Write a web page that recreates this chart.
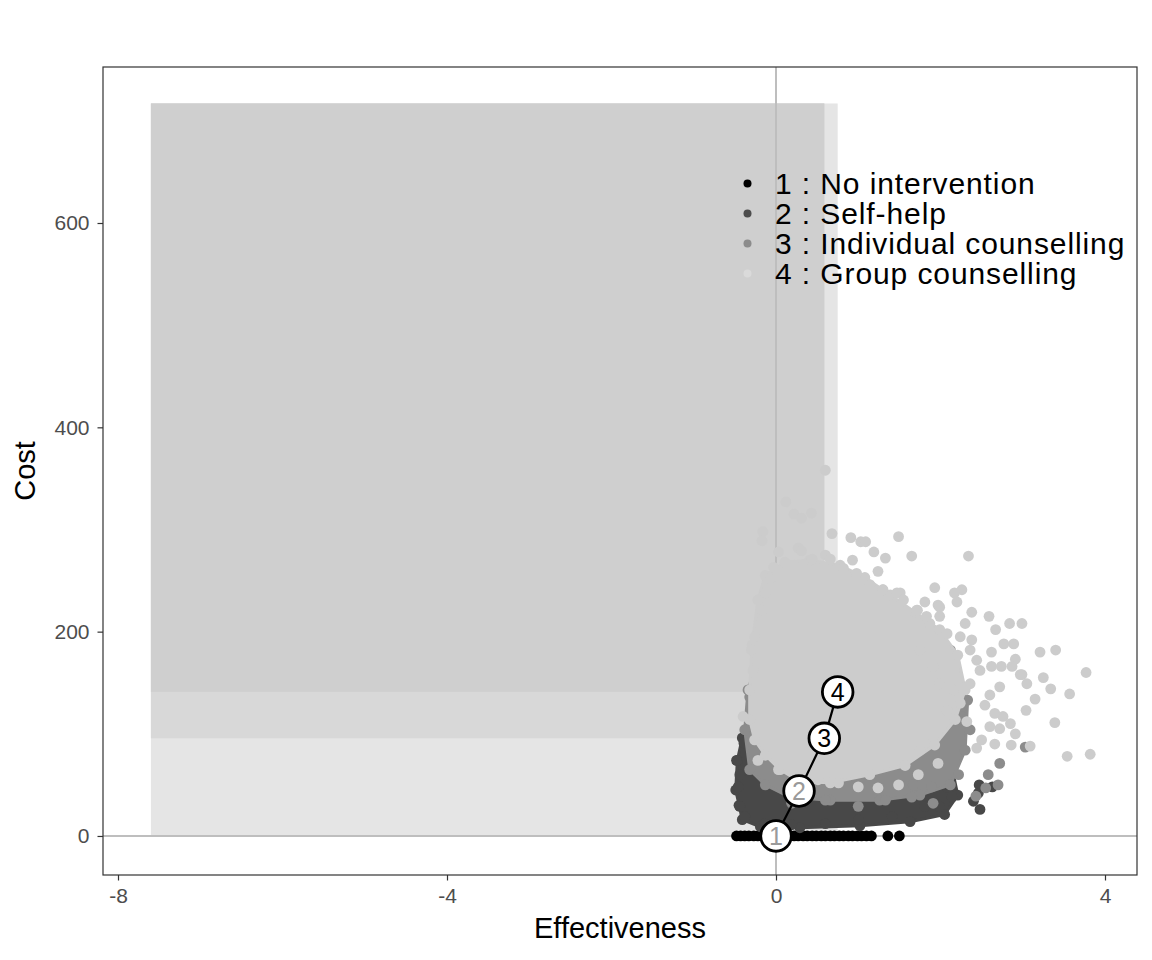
<!DOCTYPE html>
<html>
<head>
<meta charset="utf-8">
<script src="https://cdn.jsdelivr.net/npm/d3@7"></script>
<style>
  body { margin: 0; background: #fff; }
  text { font-family: "Liberation Sans", Arial, sans-serif; }
</style>
</head>
<body>
<div class="chart"></div>
<script>
// DATA //

// Axis ticks
const effectTicks = [-8, -4, 0, 4];
const costTicks = [0, 200, 400, 600];

// Strategies (legend)
const strategies = [
  "1 : No intervention",
  "2 : Self-help",
  "3 : Individual counselling",
  "4 : Group counselling"
];

// Mean effectiveness / cost of each strategy (numbered markers)
const meanEffect = [0, 0.28, 0.587, 0.75];
const meanCost = [0, 44, 95.6, 141];
const markerLabelDim = [true, true, false, false];

// Shaded regions (right edge and bottom taken from the means)
const regionXmin = -7.6;
const regionYmax = 717;
const regionXmax = [0.75, 0.587, 0.587];
const regionYmin = [0, 95.6, 141];

// 1 : No intervention, simulated [effect, cost]
const g1Points = [
  [-0.48, 0], [-0.43, 0], [-0.38, 0], [-0.33, 0], [-0.27, 0], [-0.22, 0],
  [-0.16, 0], [-0.11, 0], [-0.05, 0], [0.0, 0], [0.05, 0], [0.11, 0],
  [0.16, 0], [0.22, 0], [0.27, 0], [0.33, 0], [0.38, 0], [0.44, 0],
  [0.49, 0], [0.55, 0], [0.6, 0], [0.66, 0], [0.71, 0], [0.77, 0],
  [0.82, 0], [0.88, 0], [0.93, 0], [0.99, 0], [1.04, 0], [1.1, 0],
  [1.16, 0], [1.36, 0], [1.5, 0]
];

// 2 : Self-help, edge of the dense cloud and outlying draws
const g2Core = [
  [-0.41, 96], [-0.19, 133], [1.51, 133], [2.12, 74], [2.21, 40],
  [2.05, 21], [1.63, 14], [1.02, 10], [0.29, 8], [-0.19, 9],
  [-0.41, 16], [-0.49, 45], [-0.47, 74]
];
const g2Points = [
  [2.48, 26], [2.47, 50], [2.63, 48], [2.4, 34], [2.14, 38], [1.99, 29],
  [2.08, 48], [2.46, 42], [-0.39, 91], [-0.44, 60], [-0.45, 30],
  [-0.38, 19], [-0.13, 12], [0.19, 11], [0.6, 12], [1.0, 16], [1.41, 19],
  [1.81, 29], [-0.48, 74], [-0.46, 48], [-0.44, 29]
];

// 3 : Individual counselling
const g3Core = [
  [-0.34, 143], [-0.19, 182], [0.9, 192], [2.12, 182], [2.33, 133],
  [2.3, 84], [2.12, 50], [1.75, 40], [1.26, 35], [0.66, 35],
  [0.17, 38], [-0.13, 50], [-0.32, 65], [-0.38, 104]
];
const g3Points = [
  [2.26, 117], [2.36, 104], [3.03, 87], [2.72, 71], [2.58, 60],
  [2.7, 50], [2.43, 39], [2.22, 60], [1.91, 32], [1.67, 50],
  [-0.32, 136], [2.55, 47], [0.19, 32], [0.6, 35], [1.0, 29],
  [1.33, 35], [1.65, 38], [1.89, 48]
];

// 4 : Group counselling
const g4Core = [
  [-0.29, 187], [-0.22, 231], [-0.13, 255], [0.11, 268], [0.41, 270],
  [0.78, 265], [1.08, 253], [1.39, 236], [1.69, 219], [1.99, 202],
  [2.21, 177], [2.3, 143], [2.18, 114], [1.93, 89], [1.57, 69],
  [1.14, 60], [0.66, 52], [0.29, 53], [0.05, 65], [-0.13, 79],
  [-0.26, 94], [-0.32, 114], [-0.32, 143]
];
const g4Points = [
  [0.6, 358], [0.12, 327], [0.22, 315], [0.31, 311], [0.43, 316],
  [-0.16, 298], [-0.17, 289], [0.68, 296], [0.91, 292], [1.03, 288],
  [1.09, 288], [1.49, 293], [1.19, 278], [1.33, 272], [1.65, 274],
  [0.93, 270], [1.24, 259], [0.27, 282], [0.31, 279], [0.03, 278],
  [0.6, 275], [0.66, 271], [0.44, 271], [1.93, 243], [1.81, 229],
  [1.97, 226], [1.3, 241], [1.51, 238], [1.72, 221], [1.87, 208],
  [2.34, 274], [2.26, 241], [2.17, 238], [2.59, 215], [2.38, 219],
  [2.84, 208], [2.99, 208], [2.67, 202], [2.77, 188], [2.89, 188],
  [3.21, 180], [3.4, 182], [2.62, 180], [2.91, 173], [3.77, 160],
  [3.25, 155], [2.99, 158], [3.57, 139], [3.34, 144], [3.15, 134],
  [3.04, 123], [3.39, 111], [3.54, 78], [3.82, 80], [2.91, 100],
  [2.85, 110], [2.72, 105], [2.66, 90], [2.86, 89], [3.09, 88],
  [2.44, 86], [2.5, 94], [-0.4, 117], [2.44, 172], [2.48, 162],
  [2.62, 166], [2.74, 166], [2.87, 166], [2.97, 158], [3.05, 149],
  [2.72, 146], [2.6, 138], [2.76, 117], [2.66, 120], [2.54, 128],
  [2.36, 149], [2.38, 192], [2.24, 195], [2.36, 182], [2.6, 107],
  [2.32, 112], [2.2, 229], [1.99, 224], [2.3, 208],
  [-0.03, 263], [-0.07, 252], [-0.13, 238], [-0.17, 221], [-0.26, 195],
  [-0.3, 182], [-0.28, 162], [0.82, 262], [0.98, 257], [1.14, 246],
  [1.3, 241], [1.47, 238], [1.55, 231], [1.71, 221], [1.83, 215],
  [1.99, 215], [2.08, 198], [1.75, 182], [1.91, 166], [1.99, 149],
  [2.16, 143], [2.24, 130], [2.08, 123], [1.91, 97], [1.75, 84],
  [-0.22, 74], [0.03, 65], [0.27, 60], [0.51, 55], [0.76, 52],
  [1.0, 48], [1.24, 47], [1.49, 50], [1.73, 60], [1.97, 71]
];

// Define Chart Sizes
const w = 1152;
const h = 960;
const margin = { top: 67, right: 15, bottom: 85, left: 103 };

const palette = ["#000000", "#484848", "#8c8c8c", "#cccccc"];
const legendPalette = ["#000000", "#4d4d4d", "#8c8c8c", "#dadada"];
const regionFill = ["#e5e5e5", "#d8d8d8", "#cfcfcf"];
const dotR = 5.4;

// Add Main Chart svg
const svg = d3
  .select(".chart")
  .append("svg")
  .attr("width", w)
  .attr("height", h);

// SCALES //
const xScale = d3
  .scaleLinear()
  .domain([-8.1824, 4.389])
  .range([margin.left, w - margin.right]);

const yScale = d3
  .scaleLinear()
  .domain([-38.2, 752.7])
  .range([h - margin.bottom, margin.top]);

// REGIONS //
svg
  .append("g")
  .selectAll("rect")
  .data(regionXmax)
  .enter()
  .append("rect")
  .attr("x", xScale(regionXmin))
  .attr("y", yScale(regionYmax))
  .attr("width", (d) => xScale(d) - xScale(regionXmin))
  .attr("height", (d, i) => yScale(regionYmin[i]) - yScale(regionYmax))
  .attr("fill", (d, i) => regionFill[i]);

// Zero lines
svg
  .append("line")
  .attr("x1", xScale(0))
  .attr("x2", xScale(0))
  .attr("y1", margin.top)
  .attr("y2", h - margin.bottom)
  .attr("stroke", "#bebebe")
  .attr("stroke-width", 2);

svg
  .append("line")
  .attr("x1", margin.left)
  .attr("x2", w - margin.right)
  .attr("y1", yScale(0))
  .attr("y2", yScale(0))
  .attr("stroke", "#bebebe")
  .attr("stroke-width", 2);

// POINTS //
const cloud = d3
  .line()
  .x((d) => xScale(d[0]))
  .y((d) => yScale(d[1]))
  .curve(d3.curveLinearClosed);

const groups = [
  { core: null, points: g1Points },
  { core: g2Core, points: g2Points },
  { core: g3Core, points: g3Points },
  { core: g4Core, points: g4Points }
];

groups.forEach((g, i) => {
  const layer = svg.append("g").attr("class", "group-" + (i + 1));
  if (g.core) {
    layer
      .append("path")
      .attr("d", cloud(g.core))
      .attr("fill", palette[i])
      .attr("stroke", palette[i])
      .attr("stroke-width", 3)
      .attr("stroke-linejoin", "round");
  }
  layer
    .selectAll("circle")
    .data((g.core || []).concat(g.points))
    .enter()
    .append("circle")
    .attr("cx", (d) => xScale(d[0]))
    .attr("cy", (d) => yScale(d[1]))
    .attr("r", dotR)
    .attr("fill", palette[i]);
});

// LEGEND //
const legend = svg.append("g").attr("class", "legend");

legend
  .selectAll("circle")
  .data(strategies)
  .enter()
  .append("circle")
  .attr("cx", 747.5)
  .attr("cy", (d, i) => 183.5 + i * 30)
  .attr("r", 4)
  .attr("fill", (d, i) => legendPalette[i]);

legend
  .selectAll("text")
  .data(strategies)
  .enter()
  .append("text")
  .text((d) => d)
  .attr("x", 775)
  .attr("y", (d, i) => 194 + i * 30)
  .attr("font-size", 30)
  .attr("letter-spacing", 0.9)
  .attr("fill", "#000");

// MEAN MARKERS //
svg
  .append("path")
  .attr(
    "d",
    d3
      .line()
      .x((d) => xScale(d))
      .y((d, i) => yScale(meanCost[i]))(meanEffect)
  )
  .attr("fill", "none")
  .attr("stroke", "#000")
  .attr("stroke-width", 2.2);

const markers = svg
  .selectAll(".marker")
  .data(meanEffect)
  .enter()
  .append("g")
  .attr("class", "marker")
  .attr(
    "transform",
    (d, i) => `translate(${xScale(d)}, ${yScale(meanCost[i])})`
  );

markers
  .append("circle")
  .attr("r", 15.3)
  .attr("fill", "#fff")
  .attr("stroke", "#000")
  .attr("stroke-width", 2.8);

markers
  .append("text")
  .text((d, i) => i + 1)
  .attr("text-anchor", "middle")
  .attr("dy", "0.36em")
  .attr("font-size", 25)
  .attr("fill", (d, i) => (markerLabelDim[i] ? "#9a9a9a" : "#000"));

// AXIS //
const xAxis = svg
  .append("g")
  .attr("transform", `translate(0, ${h - margin.bottom})`)
  .call(
    d3
      .axisBottom(xScale)
      .tickValues(effectTicks)
      .tickFormat((d) => String(d))
      .tickSize(5.5)
      .tickPadding(8)
  );

const yAxis = svg
  .append("g")
  .attr("transform", `translate(${margin.left}, 0)`)
  .call(
    d3
      .axisLeft(yScale)
      .tickValues(costTicks)
      .tickFormat((d) => String(d))
      .tickSize(5.5)
      .tickPadding(8)
  );

[xAxis, yAxis].forEach((a) => {
  a.select(".domain").remove();
  a.selectAll(".tick line").attr("stroke", "#333").attr("stroke-width", 1.2);
  a.selectAll(".tick text")
    .attr("fill", "#4d4d4d")
    .attr("font-size", 21)
    .attr("font-family", "Liberation Sans, Arial, sans-serif");
});

// Panel border
svg
  .append("rect")
  .attr("x", margin.left)
  .attr("y", margin.top)
  .attr("width", w - margin.left - margin.right)
  .attr("height", h - margin.top - margin.bottom)
  .attr("fill", "none")
  .attr("stroke", "#333")
  .attr("stroke-width", 1.2);

// Axis Labels
svg
  .append("text")
  .text("Effectiveness")
  .attr("text-anchor", "middle")
  .attr("x", (margin.left + w - margin.right) / 2)
  .attr("y", 938)
  .attr("font-size", 29);

svg
  .append("text")
  .text("Cost")
  .attr("text-anchor", "middle")
  .attr("transform", `translate(35, ${(margin.top + h - margin.bottom) / 2}) rotate(-90)`)
  .attr("font-size", 29);
</script>
</body>
</html>
